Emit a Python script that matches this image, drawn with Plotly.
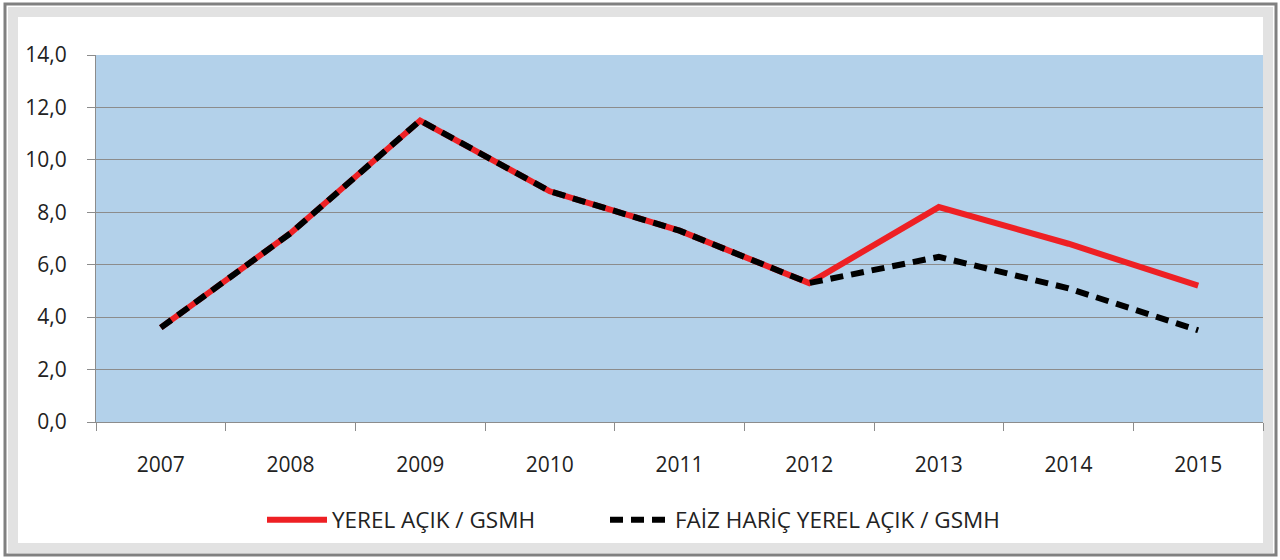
import plotly.graph_objects as go

years = ["2007", "2008", "2009", "2010", "2011", "2012", "2013", "2014", "2015"]
yerel_acik = [3.6, 7.2, 11.5, 8.8, 7.3, 5.3, 8.2, 6.8, 5.2]
faiz_haric = [3.6, 7.2, 11.5, 8.8, 7.3, 5.3, 6.3, 5.1, 3.5]
series_names = ["YEREL AÇIK / GSMH", "FAİZ HARİÇ YEREL AÇIK / GSMH"]
y_ticks = [0, 2, 4, 6, 8, 10, 12, 14]

fig = go.Figure()
fig.add_trace(go.Scatter(x=years, y=yerel_acik, mode="lines", name=series_names[0],
                         legend="legend",
                         line=dict(color="#EE2024", width=6)))
fig.add_trace(go.Scatter(x=years, y=faiz_haric, mode="lines", name=series_names[1],
                         legend="legend2",
                         line=dict(color="#000000", width=6, dash="13px,8px")))

font_family = "Open Sans, Noto Sans, DejaVu Sans, sans-serif"

L, R, T, B = 96, 17, 55, 138
W, H = 1280, 560
pw, ph = W - L - R, H - T - B


def px(xp):
    return (xp - L) / pw


def py(yp):
    return (H - B - yp) / ph


legend_style = dict(orientation="h", xanchor="left", y=py(520), yanchor="middle",
                    font=dict(size=22.5, color="#222222"), itemwidth=60,
                    bgcolor="rgba(0,0,0,0)")

fig.update_layout(
    width=W, height=H,
    margin=dict(l=L, r=R, t=T, b=B),
    paper_bgcolor="white",
    plot_bgcolor="#B3D1EA",
    separators=",.",
    font=dict(family=font_family, size=21, color="#222222"),
    showlegend=True,
    legend=dict(x=px(262), **legend_style),
    legend2=dict(x=px(605), **legend_style),
    xaxis=dict(type="category", range=[-0.5, 8.5], tickson="boundaries", ticks="outside",
               ticklen=8, tickcolor="#8c8c8c", showgrid=False, showline=True,
               linecolor="#8c8c8c", linewidth=1, tickfont=dict(size=21),
               ticklabelstandoff=24, fixedrange=True),
    yaxis=dict(range=[0, 14], tickvals=y_ticks, tickformat=".1f", ticks="outside",
               ticklen=8, tickcolor="#8c8c8c", showgrid=True, gridcolor="#8c8c8c",
               gridwidth=1, showline=True, linecolor="#8c8c8c", linewidth=1,
               zeroline=False, tickfont=dict(size=21), ticklabelstandoff=16,
               fixedrange=True),
    shapes=[
        dict(type="rect", xref="paper", yref="paper", x0=px(13), x1=px(1268),
             y0=py(548), y1=py(12), line=dict(color="#e2e2e2", width=10), layer="below"),
        dict(type="rect", xref="paper", yref="paper", x0=px(5), x1=px(1276),
             y0=py(555), y1=py(4), line=dict(color="#808080", width=3), layer="below"),
    ],
)

fig.write_html("out.html", config={"displayModeBar": False},
               post_script="document.body.style.margin='0';")
